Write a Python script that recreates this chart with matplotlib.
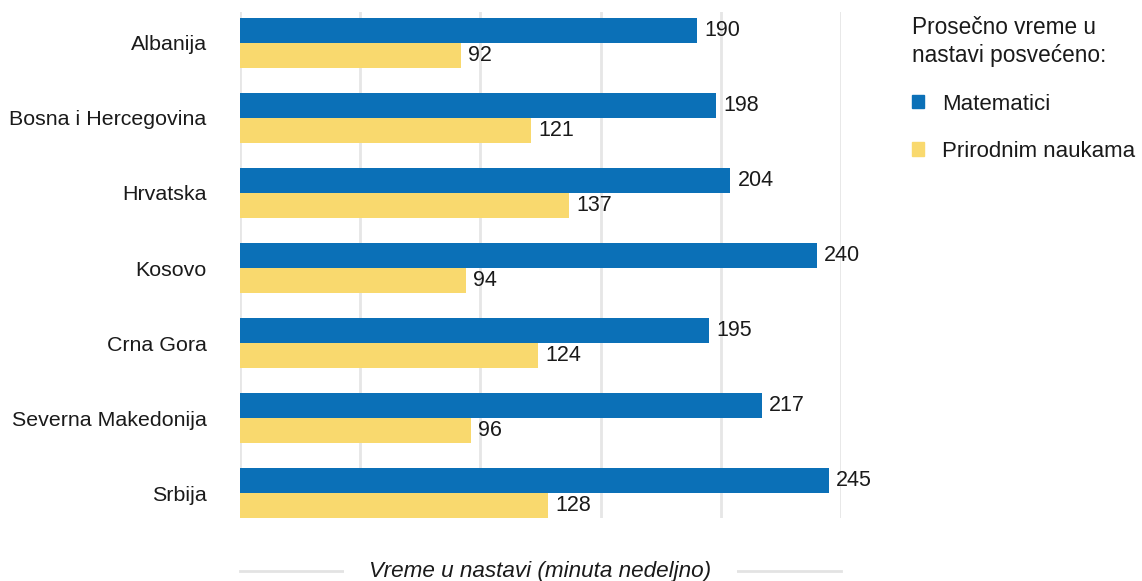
import matplotlib
matplotlib.use("Agg")
from matplotlib import pyplot as plt
from matplotlib.patches import Patch
import numpy as np

plt.rcParams['font.family'] = ['Liberation Sans', 'DejaVu Sans']

countries = ["Albanija", "Bosna i Hercegovina", "Hrvatska", "Kosovo",
             "Crna Gora", "Severna Makedonija", "Srbija"]
matematika = [190, 198, 204, 240, 195, 217, 245]
priroda = [92, 121, 137, 94, 124, 96, 128]
series_names = ["Matematici", "Prirodnim naukama"]
legend_title = "Prosečno vreme u\nnastavi posvećeno:"
xlabel = "Vreme u nastavi (minuta nedeljno)"

blue = "#0B70B7"
yellow = "#F9D96E"
grid_col = "#E6E6E6"
text_col = "#1A1A1A"

fig = plt.figure(figsize=(11.42, 5.81), dpi=100)
ax = fig.add_axes([240 / 1142, 1 - 518 / 581, 601 / 1142, 506 / 581])

y = np.arange(len(countries))
h = 0.332
ax.barh(y - h / 2, matematika, height=h, color=blue, zorder=3)
ax.barh(y + h / 2, priroda, height=h, color=yellow, zorder=3)

for yi, v in zip(y, matematika):
    ax.text(v + 3, yi - h / 2, str(v), va="center", ha="left", fontsize=15.5, color=text_col)
for yi, v in zip(y, priroda):
    ax.text(v + 3, yi + h / 2, str(v), va="center", ha="left", fontsize=15.5, color=text_col)

ax.set_xlim(0, 250)
ax.set_ylim(len(countries) - 1 + h, -h - 0.08)
ax.set_xticks([0, 50, 100, 150, 200, 250])
ax.set_xticklabels([])
ax.set_yticks(y)
ax.set_yticklabels(countries, fontsize=15.4, color=text_col)
ax.tick_params(axis="both", length=0)
ax.tick_params(axis="y", pad=24)
ax.grid(axis="x", color=grid_col, linewidth=2, zorder=0)
for s in ax.spines.values():
    s.set_visible(False)

# donja linija sa naslovom ose
ax.plot([0, 1], [-0.105, -0.105], transform=ax.transAxes, color="#E3E3E3",
        linewidth=2, clip_on=False)
ax.text(0.5, -0.105, xlabel, transform=ax.transAxes, ha="center", va="center",
        fontsize=16.2, style="italic", color=text_col,
        bbox=dict(facecolor="white", edgecolor="none", pad=18))

handles = [Patch(color=blue), Patch(color=yellow)]
leg = fig.legend(handles, series_names, loc="upper left",
                 bbox_to_anchor=(903 / 1142, 1 - 7 / 581), frameon=False,
                 fontsize=16, title=legend_title, title_fontsize=16.3,
                 alignment="left", handlelength=0.56, handleheight=0.56,
                 handletextpad=0.8, labelspacing=1.18, borderaxespad=0)
leg.get_title().set_color(text_col)
leg.get_title().set_linespacing(1.3)
for t in leg.get_texts():
    t.set_color(text_col)

fig.savefig("out.png", dpi=100)
